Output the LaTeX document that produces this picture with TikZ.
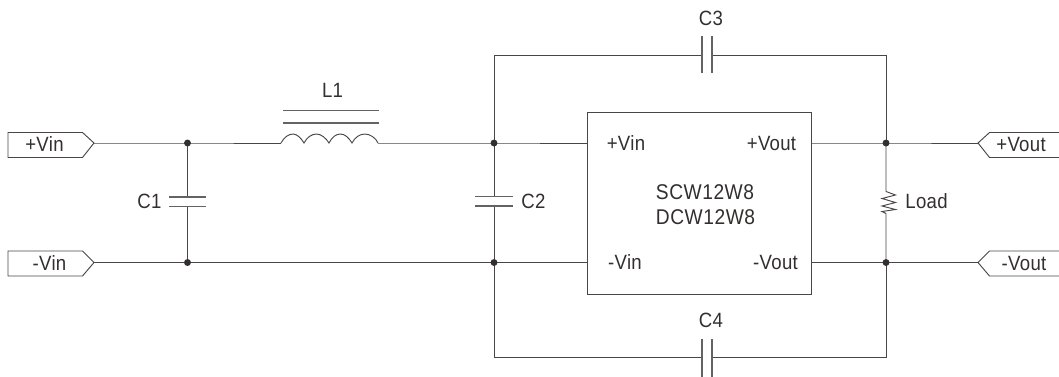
\documentclass[tikz,border=0pt]{standalone}
\usepackage{fontspec}
\setmainfont[FakeStretch=0.9,LetterSpace=1.5]{Liberation Sans}
\definecolor{wirec}{HTML}{4A4646}
\definecolor{textc}{HTML}{332F2F}
\begin{document}
\begin{tikzpicture}[x=0.75pt,y=-0.75pt,
  wire/.style={draw=wirec,line width=0.7pt},
  plate/.style={draw=wirec!85,line width=0.8pt},
  port/.style={draw=wirec,line width=0.7pt,fill=white,line join=miter},
  dotj/.style={circle,fill=textc,inner sep=0pt,minimum size=5.2pt},
  lbl/.style={inner sep=0pt,text=textc,font=\fontsize{15.5}{15.5}\selectfont,anchor=base},
  lblw/.style={lbl,font=\fontsize{16}{16}\selectfont\addfontfeature{LetterSpace=2.5}},
  block/.style={draw=wirec,line width=0.7pt,fill=white,minimum width=168pt,minimum height=136.5pt,inner sep=0pt}]
\useasboundingbox (0,0) rectangle (1059,376);
\clip (0,0) rectangle (1059,376);
% module
\node[block] (mod) at (699,203) {};
\coordinate (mi1) at (587,143); \coordinate (mi2) at (587,262.5);
\coordinate (mo1) at (811,143); \coordinate (mo2) at (811,262.5);
% junctions
\coordinate (ja) at (187.5,143);
\coordinate (jb) at (187.5,262.5);
\coordinate (jc) at (494,143);
\coordinate (jd) at (494,262.5);
\coordinate (je) at (886,143);
\coordinate (jf) at (886,262.5);
% ports
\coordinate (p1) at (94,143); \coordinate (p2) at (94,262.5);
\coordinate (p3) at (978,143); \coordinate (p4) at (978,262.5);
\draw[port] (8,132.5) -- (82.5,132.5) -- (p1) -- (82.5,157.5) -- (8,157.5) -- cycle;
\draw[port] (8,251) -- (82.5,251) -- (p2) -- (82.5,276) -- (8,276) -- cycle;
\draw[port] (1060,132.5) -- (989.5,132.5) -- (p3) -- (989.5,157.5) -- (1060,157.5);
\draw[port] (1060,251) -- (989.5,251) -- (p4) -- (989.5,276) -- (1060,276);
% inductor
\coordinate (l1a) at (281,143); \coordinate (l1b) at (378,143);
\draw[wire] (p1) -- (ja) -- (l1a);
\draw[wire] (l1a) .. controls (284,137) and (289,134) .. (293,134) .. controls (297,134) and (301,138) .. (304,143)
  .. controls (307,137) and (312,134) .. (316.5,134) .. controls (321,134) and (326,138) .. (329,143)
  .. controls (332,137) and (336,134) .. (340.5,134) .. controls (345,134) and (349,138) .. (352,143)
  .. controls (355,137) and (360,134) .. (365,134) .. controls (370,134) and (376,138) .. (l1b);
\draw[plate] (283,110.5) -- (379,110.5);
\draw[plate] (283,123) -- (379,123);
\draw[wire] (l1b) -- (jc) -- (mi1);
\draw[wire] (p2) -- (jb) -- (jd) -- (mi2);
% C1
\coordinate (c1t) at (187.5,197); \coordinate (c1b) at (187.5,206.5);
\draw[wire] (ja) -- (c1t); \draw[wire] (c1b) -- (jb);
\draw[plate] (169,197) -- (206,197); \draw[plate] (169,206.5) -- (206,206.5);
% C2
\coordinate (c2t) at (494,196.5); \coordinate (c2b) at (494,206);
\draw[wire] (jc) -- (c2t); \draw[wire] (c2b) -- (jd);
\draw[plate] (475,196.5) -- (513,196.5); \draw[plate] (475,206) -- (513,206);
% C3 C4 loops
\coordinate (c3l) at (702,55); \coordinate (c3r) at (712,55);
\coordinate (c4l) at (702,357); \coordinate (c4r) at (712,357);
\draw[wire] (jc) -- (494,55) -- (c3l);
\draw[wire] (c3r) -- (886,55) -- (je);
\draw[wire] (jd) -- (494,357) -- (c4l);
\draw[wire] (c4r) -- (886,357) -- (jf);
\draw[plate] (c3l) ++(0,-19) -- ++(0,37); \draw[plate] (c3r) ++(0,-19) -- ++(0,37);
\draw[plate] (c4l) ++(0,-18) -- ++(0,38); \draw[plate] (c4r) ++(0,-18) -- ++(0,38);
% output wires and load
\draw[wire] (mo1) -- (je) -- (p3);
\draw[wire] (mo2) -- (jf) -- (p4);
\coordinate (rt) at (886,191.5); \coordinate (rb) at (886,213.5);
\draw[wire] (je) -- (rt) -- (895.5,195) -- (882,198.5) -- (895.5,202.5) -- (882,206) -- (895.5,209.5) -- (882,211.5) -- (rb) -- (jf);
\foreach \j in {ja,jb,jc,jd,je,jf} \node[dotj] at (\j) {};
% labels
\node[lbl] (t1) at (44.5,151.5) {+Vin};
\node[lbl] (t2) at (49.5,270) {-Vin};
\node[lbl] (t3) at (149.5,208.5) {C1};
\node[lbl] (t4) at (332.5,97) {L1};
\node[lbl] (t5) at (533.5,208.5) {C2};
\node[lbl] (t6) at (626,150) {+Vin};
\node[lbl] (t7) at (625,269) {-Vin};
\node[lbl] (t8) at (771.5,150) {+Vout};
\node[lbl] (t9) at (775.5,269) {-Vout};
\node[lblw] (t10) at (705,199) {SCW12W8};
\node[lblw] (t11) at (705.5,224) {DCW12W8};
\node[lbl] (t12) at (926.5,208.5) {Load};
\node[lbl] (t13) at (1021,151.5) {+Vout};
\node[lbl] (t14) at (1024,270) {-Vout};
\node[lbl] (t15) at (711,25) {C3};
\node[lbl] (t16) at (711,327) {C4};
\end{tikzpicture}
\end{document}
